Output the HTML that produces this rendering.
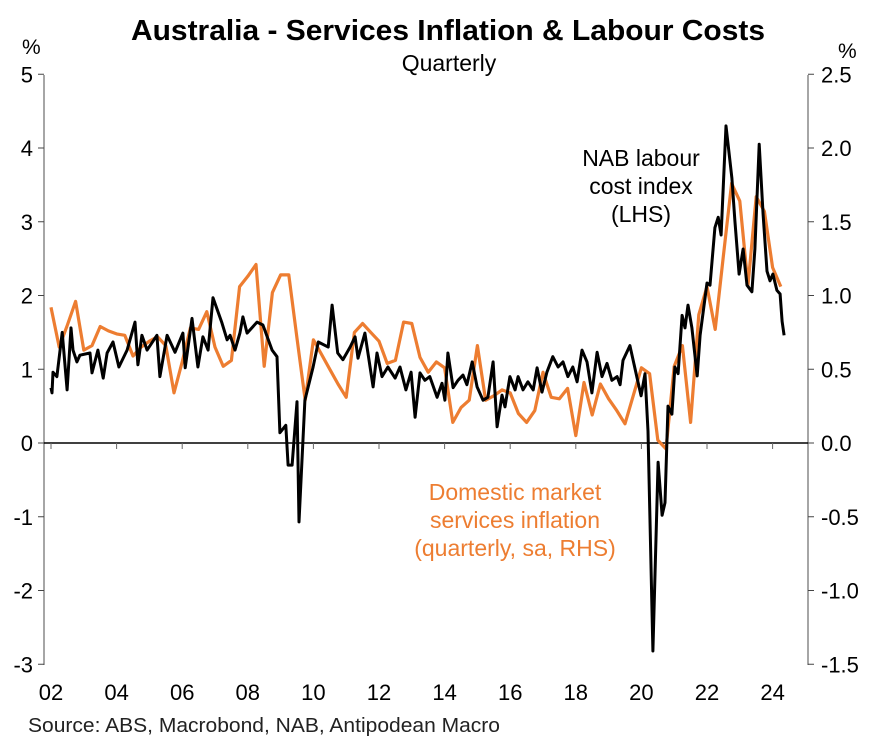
<!DOCTYPE html>
<html><head><meta charset="utf-8"><style>
body{margin:0;background:#fff;}
svg{display:block;font-family:"Liberation Sans",Arial,sans-serif;}
</style></head><body>
<svg id="chart" width="887" height="746" viewBox="0 0 887 746">
<text x="448" y="40" text-anchor="middle" font-size="29" font-weight="bold" textLength="634" lengthAdjust="spacingAndGlyphs">Australia - Services Inflation &amp; Labour Costs</text>
<text x="449" y="71" text-anchor="middle" font-size="23">Quarterly</text>
<text x="22" y="54" font-size="21">%</text>
<text x="838" y="58" font-size="21">%</text>
<g id="axes"></g>
<g id="series"></g>
<text font-size="23" text-anchor="middle"><tspan x="641" y="166">NAB labour</tspan><tspan x="641" y="194">cost index</tspan><tspan x="641" y="222">(LHS)</tspan></text>
<text font-size="23" text-anchor="middle" fill="#ED7D31"><tspan x="515" y="500">Domestic market</tspan><tspan x="515" y="528">services inflation</tspan><tspan x="515" y="556">(quarterly, sa, RHS)</tspan></text>
<text x="28" y="732" font-size="20" fill="#222" textLength="472" lengthAdjust="spacingAndGlyphs">Source: ABS, Macrobond, NAB, Antipodean Macro</text>
</svg>
<script>
const leftTicks=[5,4,3,2,1,0,-1,-2,-3];
const rightTicks=["2.5","2.0","1.5","1.0","0.5","0.0","-0.5","-1.0","-1.5"];
const xTickYears=[2002,2004,2006,2008,2010,2012,2014,2016,2018,2020,2022,2024];
const xTickLabels=["02","04","06","08","10","12","14","16","18","20","22","24"];
const nabYears=[2002.00,2002.03,2002.06,2002.18,2002.34,2002.49,2002.61,2002.67,2002.79,2002.88,2003.19,2003.25,2003.43,2003.59,2003.71,2003.89,2004.07,2004.32,2004.56,2004.65,2004.77,2004.93,2005.23,2005.32,2005.54,2005.78,2006.02,2006.09,2006.30,2006.48,2006.63,2006.79,2006.94,2007.21,2007.37,2007.46,2007.61,2007.76,2007.85,2007.98,2008.28,2008.46,2008.74,2008.89,2008.98,2009.16,2009.23,2009.35,2009.50,2009.56,2009.74,2009.99,2010.15,2010.45,2010.57,2010.74,2010.90,2011.12,2011.27,2011.36,2011.57,2011.82,2011.94,2012.09,2012.27,2012.49,2012.64,2012.82,2012.98,2013.10,2013.25,2013.40,2013.55,2013.77,2013.92,2014.01,2014.10,2014.26,2014.41,2014.56,2014.68,2014.84,2014.99,2015.17,2015.32,2015.48,2015.60,2015.75,2015.84,2015.99,2016.15,2016.24,2016.39,2016.54,2016.70,2016.82,2016.97,2017.12,2017.30,2017.46,2017.61,2017.76,2017.91,2018.04,2018.19,2018.34,2018.49,2018.65,2018.80,2018.95,2019.10,2019.26,2019.35,2019.44,2019.65,2019.87,2019.99,2020.11,2020.20,2020.35,2020.51,2020.63,2020.72,2020.81,2020.93,2021.02,2021.12,2021.24,2021.33,2021.42,2021.54,2021.70,2021.79,2022.00,2022.09,2022.24,2022.34,2022.43,2022.58,2022.76,2022.85,2022.98,2023.10,2023.22,2023.37,2023.46,2023.59,2023.71,2023.83,2023.92,2024.01,2024.13,2024.23,2024.29,2024.35];
const nabValues=[0.75,0.68,0.96,0.9,1.5,0.72,1.56,1.26,1.1,1.19,1.22,0.95,1.26,0.88,1.22,1.37,1.03,1.26,1.64,1.06,1.46,1.26,1.46,0.9,1.46,1.23,1.49,1.02,1.69,1.03,1.44,1.26,1.97,1.63,1.4,1.46,1.26,1.49,1.71,1.49,1.64,1.6,1.26,1.17,0.14,0.24,-0.3,-0.3,0.56,-1.07,0.58,1.03,1.37,1.3,1.87,1.22,1.13,1.3,1.44,1.15,1.49,0.76,1.22,0.9,1.03,0.88,1.03,0.72,0.96,0.35,0.95,0.85,0.9,0.62,0.81,0.58,1.22,0.75,0.85,0.92,0.79,1.1,0.76,0.58,0.62,1.1,0.22,0.65,0.49,0.9,0.72,0.9,0.72,0.83,0.72,1.02,0.69,0.96,1.17,1.03,1.1,0.9,1.03,0.83,1.26,1.1,0.68,1.23,0.9,1.08,0.85,0.9,0.79,1.12,1.32,0.88,0.64,0.94,0.16,-2.82,-0.26,-0.98,-0.81,0.5,0.39,1.03,0.94,1.73,1.56,1.87,1.56,0.91,1.46,2.17,2.14,2.92,3.06,2.82,4.3,3.59,3.01,2.29,2.63,2.14,2.05,2.63,4.05,3.1,2.33,2.2,2.29,2.07,2.02,1.65,1.46];
const svcStartYear=2002;
const svcValues=[0.92,0.65,0.8,0.96,0.63,0.66,0.79,0.76,0.74,0.73,0.59,0.65,0.69,0.72,0.66,0.34,0.55,0.78,0.77,0.89,0.65,0.52,0.56,1.06,1.13,1.21,0.52,1.02,1.14,1.14,0.71,0.29,0.70,0.6,0.5,0.4,0.31,0.75,0.81,0.75,0.69,0.54,0.56,0.82,0.81,0.58,0.48,0.55,0.51,0.14,0.24,0.29,0.66,0.29,0.32,0.36,0.34,0.20,0.14,0.22,0.48,0.31,0.30,0.37,0.05,0.41,0.19,0.40,0.30,0.22,0.13,0.32,0.51,0.47,0.02,-0.04,0.52,0.66,0.14,0.87,1.06,0.77,1.27,1.76,1.64,1.07,1.67,1.57,1.19,1.06];

const NS='http://www.w3.org/2000/svg';
const X0=44,X1=808,YT=75,YB=665;
function xs(yr){return 51+(yr-2002)*32.8;}
function yl(v){return 443-v*73.75;}
function yr(v){return 443-v*147.5;}
function mk(tag,attrs,parent){const e=document.createElementNS(NS,tag);for(const k in attrs)e.setAttribute(k,attrs[k]);parent.appendChild(e);return e;}
const axes=document.getElementById('axes');
const ser=document.getElementById('series');

let e=mk('line',{x1:X0,y1:YT,x2:X0,y2:YB,stroke:'#888','stroke-width':1.5},axes);


e=mk('line',{x1:X1,y1:YT,x2:X1,y2:YB,stroke:'#888','stroke-width':1.5},axes);


leftTicks.forEach(v=>{
  const y=yl(v);
  mk('line',{x1:X0-6,y1:y,x2:X0,y2:y,stroke:'#444','stroke-width':1},axes);
  const t=mk('text',{x:X0-11,y:y+8,'text-anchor':'end','font-size':22},axes);
  t.textContent=v;
  
  
});
rightTicks.forEach((s,i)=>{
  const y=yr(parseFloat(s));
  mk('line',{x1:X1,y1:y,x2:X1+6,y2:y,stroke:'#444','stroke-width':1},axes);
  const t=mk('text',{x:X1+13,y:y+8,'font-size':22},axes);
  t.textContent=s;
  
  
});
e=mk('line',{x1:X0,y1:yl(0),x2:X1,y2:yl(0),stroke:'#000','stroke-width':1.5},axes);


xTickYears.forEach((yy,i)=>{
  const x=xs(yy);
  mk('line',{x1:x,y1:yl(0),x2:x,y2:yl(0)+6,stroke:'#666','stroke-width':1},axes);
  const t=mk('text',{x:x,y:700,'text-anchor':'middle','font-size':22},axes);
  t.textContent=xTickLabels[i];
  
  
});

let d='';
svcValues.forEach((v,i)=>{d+=(i?'L':'M')+xs(svcStartYear+i/4).toFixed(1)+','+yr(v).toFixed(1);});
e=mk('path',{d:d,fill:'none',stroke:'#ED7D31','stroke-width':3.2,'stroke-linejoin':'round'},ser);


d='';
const n=Math.min(nabYears.length,nabValues.length);
for(let i=0;i<n;i++){d+=(i?'L':'M')+Math.max(X0,xs(nabYears[i])).toFixed(1)+','+yl(nabValues[i]).toFixed(1);}
e=mk('path',{d:d,fill:'none',stroke:'#000','stroke-width':3,'stroke-linejoin':'round'},ser);


</script>
</body></html>
